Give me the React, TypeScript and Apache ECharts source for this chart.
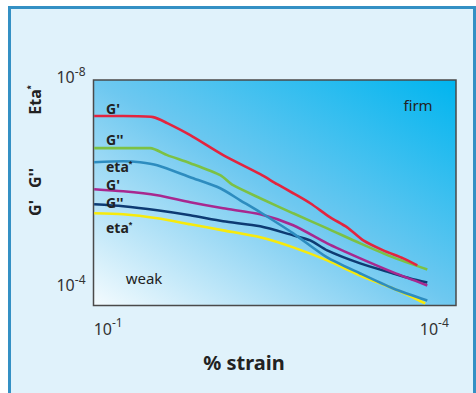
import React, { useEffect, useRef } from "react";
import * as echarts from "echarts";

// x value = -log10(strain), y value = -log10(modulus)
const X_TICKS = [1, 4];
const Y_TICKS = [4, 8];

const SERIES_NAMES = ["G' (firm)", "G'' (firm)", "eta* (firm)", "G' (weak)", "G'' (weak)", "eta* (weak)"];

const G1_FIRM: [number, number][] = [
  [0.871, 7.308], [1.138, 7.308], [1.414, 7.288], [1.543, 7.173], [1.755, 6.942],
  [2.058, 6.558], [2.399, 6.192], [2.555, 6.0], [2.702, 5.827], [2.859, 5.635],
  [3.043, 5.365], [3.199, 5.173], [3.347, 4.923], [3.531, 4.731], [3.715, 4.577],
  [3.844, 4.442],
];
const G2_FIRM: [number, number][] = [
  [0.871, 6.692], [1.386, 6.692], [1.543, 6.558], [1.755, 6.404], [2.031, 6.173],
  [2.15, 5.981], [2.399, 5.731], [2.702, 5.442], [3.015, 5.154], [3.319, 4.865],
  [3.623, 4.596], [3.936, 4.365],
];
const ETA_FIRM: [number, number][] = [
  [0.871, 6.423], [1.138, 6.442], [1.294, 6.423], [1.451, 6.365], [1.755, 6.135],
  [2.031, 5.923], [2.215, 5.692], [2.399, 5.462], [2.702, 5.058], [3.015, 4.596],
  [3.319, 4.288], [3.623, 4.0], [3.936, 3.769],
];
const G1_WEAK: [number, number][] = [
  [0.871, 5.904], [1.138, 5.865], [1.451, 5.788], [1.755, 5.654], [2.058, 5.538],
  [2.399, 5.423], [2.702, 5.212], [3.015, 4.865], [3.319, 4.577], [3.623, 4.308],
  [3.936, 4.058],
];
const G2_WEAK: [number, number][] = [
  [0.871, 5.615], [1.138, 5.577], [1.451, 5.5], [1.755, 5.404], [2.058, 5.288],
  [2.399, 5.192], [2.702, 5.019], [2.859, 4.923], [3.015, 4.731], [3.319, 4.481],
  [3.623, 4.288], [3.779, 4.192], [3.936, 4.115],
];
const ETA_WEAK: [number, number][] = [
  [0.871, 5.442], [1.138, 5.423], [1.451, 5.346], [1.755, 5.231], [2.058, 5.115],
  [2.399, 4.981], [2.702, 4.788], [3.015, 4.538], [3.319, 4.25], [3.623, 4.0],
  [3.807, 3.827], [3.917, 3.712],
];

const SERIES_DATA = [G1_FIRM, G2_FIRM, ETA_FIRM, G1_WEAK, G2_WEAK, ETA_WEAK];
const COLORS = ["#e3243f", "#7cc144", "#2d8cbf", "#a8288f", "#0d3b73", "#f7ea0c"];

const FONT = "'Noto Sans', 'DejaVu Sans', sans-serif";

const tickRich = {
  b: { fontSize: 16, color: "#333", fontFamily: FONT, verticalAlign: "bottom" as const },
  s: { fontSize: 12, color: "#333", fontFamily: FONT, verticalAlign: "bottom" as const, padding: [0, 0, 8, 0] },
};

export default function App() {
  const ref = useRef<HTMLDivElement>(null);

  useEffect(() => {
    if (!ref.current) return;
    const chart = echarts.init(ref.current, undefined, { renderer: "svg" });

    const lineLabel = (text: string, y: number) => ({
      type: "text",
      x: 106,
      y,
      style: {
        text,
        fill: "#222",
        font: `bold 14px ${FONT}`,
        lineHeight: 12,
        verticalAlign: "middle",
        rich: {
          s: { fontSize: 9, fontWeight: "bold", color: "#222", verticalAlign: "bottom", lineHeight: 12, padding: [0, 0, 4, 0] },
        },
      },
      z: 100,
    });

    const yTitle = (text: string, y: number) => ({
      type: "text",
      x: 35,
      y,
      rotation: Math.PI / 2,
      style: {
        text,
        fill: "#222",
        font: `bold 16px ${FONT}`,
        align: "center",
        verticalAlign: "middle",
        rich: {
          s: { fontSize: 10, fontWeight: "bold", color: "#222", verticalAlign: "bottom", padding: [0, 0, 7, 0] },
        },
      },
    });

    chart.setOption({
      animation: false,
      grid: {
        left: 93.5,
        top: 80,
        right: 20,
        bottom: 87.5,
        show: true,
        borderColor: "#4a4a4a",
        borderWidth: 1.5,
        backgroundColor: new echarts.graphic.LinearGradient(0, 1, 1, 0, [
          { offset: 0, color: "#f4fbfe" },
          { offset: 0.5, color: "#6ec8f0" },
          { offset: 1, color: "#00b5ef" },
        ]),
      },
      xAxis: {
        type: "value",
        min: 0.865,
        max: 4.2,
        axisLine: { show: false },
        axisTick: { show: false },
        splitLine: { show: false },
        axisLabel: {
          customValues: X_TICKS,
          margin: 11,
          formatter: (v: number) => `{b|10}{s|-${v}}`,
          rich: tickRich,
        },
      },
      yAxis: {
        type: "value",
        min: 3.673,
        max: 8,
        axisLine: { show: false },
        axisTick: { show: false },
        splitLine: { show: false },
        axisLabel: {
          customValues: Y_TICKS,
          margin: 8,
          padding: [0, 0, 10, 0],
          formatter: (v: number) => `{b|10}{s|-${v}}`,
          rich: tickRich,
        },
      },
      series: SERIES_DATA.map((d, i) => ({
        name: SERIES_NAMES[i],
        type: "line",
        data: d,
        showSymbol: false,
        symbol: "none",
        smooth: 0.25,
        lineStyle: { color: COLORS[i], width: 2.6 },
        z: 10 - i,
      })),
      graphic: [
        lineLabel("G'", 108),
        lineLabel("G''", 139),
        lineLabel("eta{s|*}", 166),
        lineLabel("G'", 184),
        lineLabel("G''", 202),
        lineLabel("eta{s|*}", 227),
        yTitle("G'", 208),
        yTitle("G''", 178),
        yTitle("Eta{s|*}", 100),
        {
          type: "text",
          x: 244,
          y: 362,
          style: { text: "% strain", fill: "#222", font: `bold 20px ${FONT}`, align: "center", verticalAlign: "middle" },
        },
        {
          type: "text",
          x: 418,
          y: 105,
          style: { text: "firm", fill: "#222", font: `15px ${FONT}`, align: "center", verticalAlign: "middle" },
          z: 100,
        },
        {
          type: "text",
          x: 144,
          y: 278,
          style: { text: "weak", fill: "#222", font: `15px ${FONT}`, align: "center", verticalAlign: "middle" },
          z: 100,
        },
      ],
    });

    return () => chart.dispose();
  }, []);

  return (
    <div style={{ position: "absolute", left: 0, top: 0, width: 476, height: 393, overflow: "hidden", background: "#fff" }}>
      <div
        style={{
          position: "absolute",
          left: 8,
          top: 6,
          width: 468,
          height: 400,
          boxSizing: "border-box",
          border: "3px solid #3490c4",
          background: "#e0f2fb",
        }}
      />
      <div ref={ref} style={{ position: "absolute", left: 0, top: 0, width: 476, height: 393 }} />
    </div>
  );
}
